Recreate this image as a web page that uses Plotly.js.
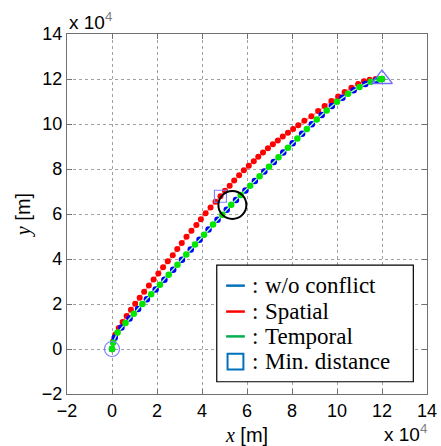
<!DOCTYPE html>
<html>
<head>
<meta charset="utf-8">
<script src="https://cdn.plot.ly/plotly-3.0.1.min.js"></script>
<style>
  html, body { margin: 0; padding: 0; background: #ffffff; }
  #chart { width: 441px; height: 446px; }
</style>
</head>
<body>
<div id="chart"></div>
<script>
// All coordinates in units of 10^4 m
const tickValsX = [-2, 0, 2, 4, 6, 8, 10, 12, 14];
const tickValsY = [-2, 0, 2, 4, 6, 8, 10, 12, 14];

// w/o conflict (blue)
const blueX = [0.00, 0.12, 0.42, 0.78, 1.16, 1.55, 1.94, 2.33, 2.72, 3.11, 3.50, 3.89, 4.29, 4.69, 5.10, 5.51, 5.93, 6.35, 6.77, 7.19, 7.61, 8.03, 8.45, 8.88, 9.32, 9.77, 10.24, 10.74, 11.26, 11.76, 12.00];
const blueY = [0.00, 0.50, 0.96, 1.36, 1.78, 2.21, 2.64, 3.08, 3.52, 3.97, 4.42, 4.86, 5.31, 5.75, 6.19, 6.62, 7.05, 7.47, 7.89, 8.31, 8.73, 9.15, 9.57, 9.99, 10.40, 10.80, 11.17, 11.50, 11.78, 11.96, 12.00];

// Spatial (red)
const redX = [0.00, 0.05, 0.15, 0.30, 0.47, 0.65, 0.84, 1.03, 1.23, 1.43, 1.64, 1.85, 2.06, 2.27, 2.48, 2.70, 2.90, 3.10, 3.31, 3.53, 3.75, 3.95, 4.16, 4.38, 4.60, 4.82, 5.02, 5.23, 5.43, 5.65, 5.86, 6.08, 6.30, 6.50, 6.71, 6.93, 7.15, 7.37, 7.59, 7.82, 8.05, 8.28, 8.55, 8.86, 9.16, 9.45, 9.75, 10.05, 10.34, 10.64, 10.94, 11.20, 11.45, 11.72, 12.00];
const redY = [0.00, 0.35, 0.65, 0.93, 1.20, 1.47, 1.74, 2.01, 2.28, 2.55, 2.82, 3.09, 3.36, 3.63, 3.90, 4.17, 4.44, 4.71, 4.99, 5.26, 5.51, 5.77, 6.03, 6.29, 6.55, 6.79, 7.03, 7.26, 7.49, 7.72, 7.94, 8.14, 8.35, 8.54, 8.73, 8.92, 9.10, 9.27, 9.44, 9.61, 9.78, 9.95, 10.14, 10.34, 10.58, 10.80, 11.02, 11.22, 11.42, 11.61, 11.78, 11.90, 11.97, 12.00, 12.00];

// Temporal (green)
const greenX = [0.00, 0.05, 0.25, 0.60, 0.97, 1.35, 1.74, 2.13, 2.52, 2.91, 3.30, 3.69, 4.09, 4.49, 4.90, 5.30, 5.72, 6.14, 6.56, 6.98, 7.40, 7.82, 8.24, 8.66, 9.10, 9.54, 10.00, 10.49, 11.00, 11.50, 11.90, 12.00];
const greenY = [0.00, 0.28, 0.73, 1.16, 1.57, 2.00, 2.43, 2.86, 3.30, 3.75, 4.20, 4.64, 5.08, 5.53, 5.97, 6.41, 6.84, 7.26, 7.68, 8.10, 8.52, 8.94, 9.36, 9.78, 10.20, 10.60, 10.99, 11.34, 11.65, 11.88, 11.99, 12.00];

// Special markers
const startPt = { x: [0], y: [0] };
const goalPt = { x: [12], y: [12] };
const minDistPt = { x: [4.82], y: [6.79] };
const conflictPt = { x: [5.35], y: [6.40] };

const legendNames = ['w/o conflict', 'Spatial', 'Temporal', 'Min. distance'];
const legendColors = ['#0072BD', '#ff0000', '#00b050', '#0072BD'];

const traces = [
  { x: redX, y: redY, mode: 'lines+markers', showlegend: false,
    line: { color: '#ffa0a0', width: 1.6 }, marker: { color: '#ff0000', size: 6 } },
  { x: blueX, y: blueY, mode: 'lines+markers', showlegend: false,
    line: { color: '#9a9aff', width: 1.6 }, marker: { color: '#0000ff', size: 6.5 } },
  { x: greenX, y: greenY, mode: 'lines+markers', showlegend: false,
    line: { color: '#a0ffa0', width: 1.4 }, marker: { color: '#00e600', size: 6.5 } },
  { x: startPt.x, y: startPt.y, mode: 'markers', showlegend: false,
    marker: { symbol: 'circle-open', size: 15, color: '#8080ff', line: { width: 1.2 } } },
  { x: goalPt.x, y: goalPt.y, mode: 'markers', showlegend: false,
    marker: { symbol: 'triangle-up-open', size: 18, color: '#7070ff', line: { width: 1.3 } } },
  { x: minDistPt.x, y: minDistPt.y, mode: 'markers', showlegend: false,
    marker: { symbol: 'square-open', size: 12, color: '#8080ff', line: { width: 1.2 } } },
  { x: conflictPt.x, y: conflictPt.y, mode: 'markers', showlegend: false,
    marker: { symbol: 'circle-open', size: 28, color: '#000000', line: { width: 2 } } }
];

const axisCommon = {
  showgrid: true, gridcolor: '#a0a0a0', griddash: 'dot', gridwidth: 1,
  zeroline: false, showline: true, linecolor: '#707070', linewidth: 1.2, mirror: 'ticks',
  ticks: 'inside', ticklen: 5, tickcolor: '#707070',
  tickfont: { family: 'Liberation Sans, Arial, sans-serif', size: 18, color: '#000000' }
};

// Manual legend (paper coordinates)
const lgBox = { x0: 0.416, x1: 0.962, y0: 0.034, y1: 0.358 };
const lgRows = [0.301, 0.229, 0.160, 0.090];
const lgSym = { x0: 0.442, x1: 0.494 };
const lgColonX = 0.522, lgTextX = 0.545;

const shapes = [
  { type: 'rect', xref: 'paper', yref: 'paper', x0: lgBox.x0, x1: lgBox.x1, y0: lgBox.y0, y1: lgBox.y1,
    line: { color: '#000000', width: 1.2 }, fillcolor: '#ffffff', layer: 'above' }
];
for (let i = 0; i < 3; i++) {
  shapes.push({ type: 'line', xref: 'paper', yref: 'paper', x0: lgSym.x0, x1: lgSym.x1,
    y0: lgRows[i], y1: lgRows[i], line: { color: legendColors[i], width: 2.5 }, layer: 'above' });
}
shapes.push({ type: 'rect', xref: 'paper', yref: 'paper', x0: lgSym.x0 + 0.004, x1: lgSym.x1 - 0.004,
  y0: lgRows[3] - 0.022, y1: lgRows[3] + 0.022, line: { color: legendColors[3], width: 2 }, layer: 'above' });

const lgFont = { family: 'Liberation Serif, Times New Roman, serif', size: 23, color: '#000' };
const annotations = [
  { xref: 'paper', yref: 'paper', x: 0, y: 1, xanchor: 'left', yanchor: 'bottom', yshift: -1,
    showarrow: false, text: 'x 10<sup><span style="color:#808080">4</span></sup>',
    font: { family: 'Liberation Sans, Arial, sans-serif', size: 19, color: '#000' } },
  { xref: 'paper', yref: 'paper', x: 1.005, y: 0, xanchor: 'right', yanchor: 'middle', yshift: -39,
    showarrow: false, text: 'x 10<sup><span style="color:#808080">4</span></sup>',
    font: { family: 'Liberation Sans, Arial, sans-serif', size: 19, color: '#000' } }
];
for (let i = 0; i < 4; i++) {
  annotations.push({ xref: 'paper', yref: 'paper', x: lgColonX, y: lgRows[i], xanchor: 'center', yanchor: 'middle',
    showarrow: false, text: ':', font: lgFont });
  annotations.push({ xref: 'paper', yref: 'paper', x: lgTextX, y: lgRows[i], xanchor: 'left', yanchor: 'middle',
    showarrow: false, text: legendNames[i], font: lgFont });
}

const layout = {
  width: 441, height: 446,
  margin: { l: 67, r: 14, t: 34, b: 52 },
  paper_bgcolor: '#ffffff', plot_bgcolor: '#ffffff',
  showlegend: false,
  xaxis: Object.assign({}, axisCommon, {
    range: [-2, 14], tickvals: tickValsX, autorange: false,
    title: { text: '<span style="font-family:Liberation Serif;font-style:italic">x</span> [m]',
             font: { family: 'Liberation Sans, Arial, sans-serif', size: 20, color: '#000' }, standoff: 8 }
  }),
  yaxis: Object.assign({}, axisCommon, {
    range: [-2, 14], tickvals: tickValsY, autorange: false,
    title: { text: '<span style="font-family:Liberation Serif;font-style:italic">y</span> [m]',
             font: { family: 'Liberation Sans, Arial, sans-serif', size: 20, color: '#000' }, standoff: 5 }
  }),
  shapes: shapes,
  annotations: annotations
};

Plotly.newPlot('chart', traces, layout, { staticPlot: true, displayModeBar: false });
</script>
</body>
</html>
